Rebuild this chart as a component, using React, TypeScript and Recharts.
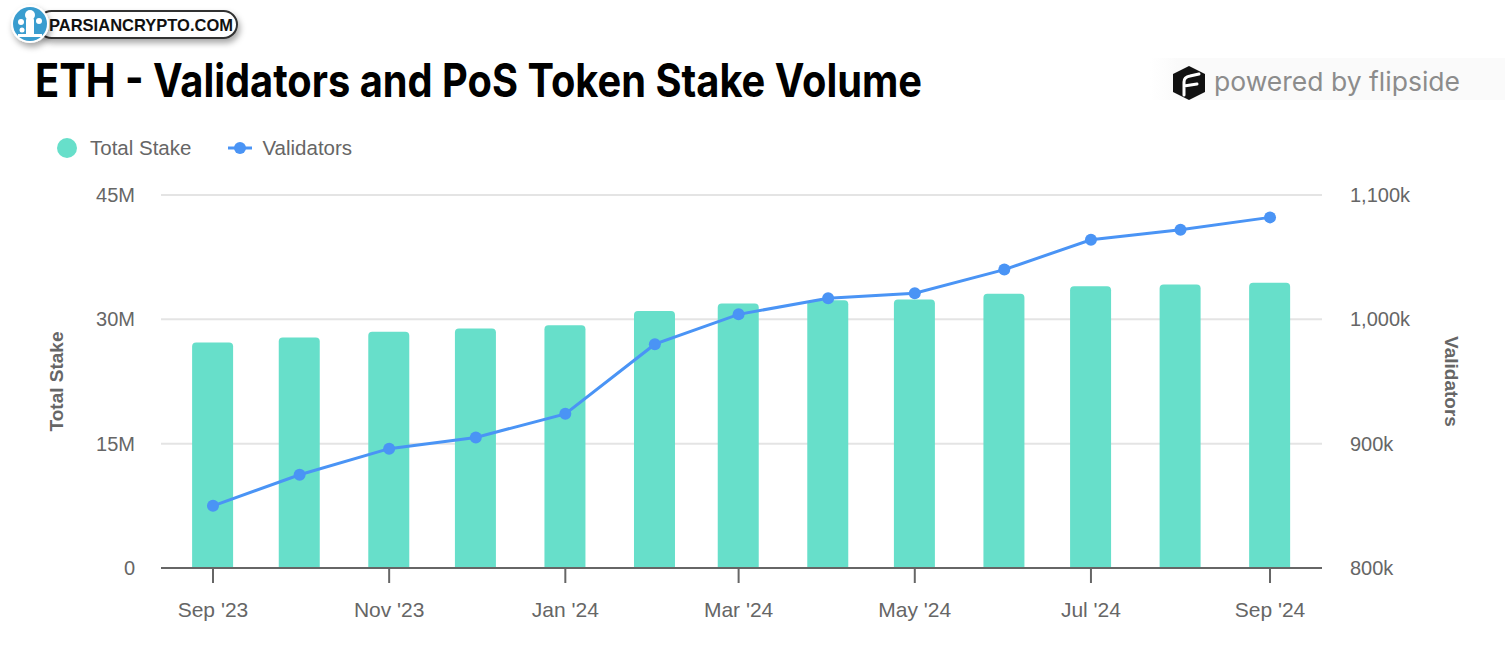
import {
  ComposedChart,
  Bar,
  Line,
  XAxis,
  YAxis,
  CartesianGrid,
} from "recharts";

const months = [
  "2023-09-01", "2023-10-01", "2023-11-01", "2023-12-01", "2024-01-01",
  "2024-02-01", "2024-03-01", "2024-04-01", "2024-05-01", "2024-06-01",
  "2024-07-01", "2024-08-01", "2024-09-01",
];
// millions of ETH
const totalStake = [27.2, 27.8, 28.5, 28.9, 29.3, 31.0, 31.9, 32.3, 32.4, 33.1, 34.0, 34.2, 34.4];
// thousands of validators
const validators = [850, 875, 896, 905, 924, 980, 1004, 1017, 1021, 1040, 1064, 1072, 1082];

const tickDates = ["2023-09-01", "2023-11-01", "2024-01-01", "2024-03-01", "2024-05-01", "2024-07-01", "2024-09-01"];
const tickLabels = ["Sep '23", "Nov '23", "Jan '24", "Mar '24", "May '24", "Jul '24", "Sep '24"];
const stakeTicks = [0, 15, 30, 45];
const validatorTicks = [800, 900, 1000, 1100];

const TEAL = "#67dfca";
const BLUE = "#4a94f5";
const GREY = "#666";
const FONT = "'Liberation Sans', Arial, sans-serif";

const ts = (d: string) => new Date(d + "T00:00:00Z").getTime();
const DAY = 86400000;

const data = months.map((m, i) => ({
  t: ts(m),
  stake: totalStake[i],
  validators: validators[i],
}));

const xTicks = tickDates.map(ts);
const xDomain = [ts(months[0]) - 18 * DAY, ts(months[months.length - 1]) + 18 * DAY];

function ChartLegend() {
  return (
    <div
      style={{
        position: "absolute",
        left: 55,
        top: 136,
        display: "flex",
        alignItems: "center",
        fontFamily: FONT,
        fontSize: 20.5,
        color: GREY,
      }}
    >
      <svg width={24} height={24} style={{ marginRight: 11 }}>
        <circle cx={12} cy={12} r={10} fill={TEAL} />
      </svg>
      <span style={{ marginRight: 36 }}>Total Stake</span>
      <svg width={26} height={16} style={{ marginRight: 9 }}>
        <line x1={1} y1={8} x2={25} y2={8} stroke={BLUE} strokeWidth={3} />
        <circle cx={13} cy={8} r={6} fill={BLUE} />
      </svg>
      <span>Validators</span>
    </div>
  );
}

function Header() {
  return (
    <svg width={1509} height={110} style={{ position: "absolute", left: 0, top: 0 }}>
      <defs>
        <filter id="sh" x="-20%" y="-40%" width="140%" height="200%">
          <feDropShadow dx={2} dy={4} stdDeviation={3} floodColor="#000" floodOpacity={0.35} />
        </filter>
        <linearGradient id="band" x1="0" x2="1" y1="0" y2="0">
          <stop offset="0" stopColor="#fafafa" stopOpacity={0} />
          <stop offset="0.08" stopColor="#fafafa" />
          <stop offset="1" stopColor="#fafafa" />
        </linearGradient>
      </defs>
      {/* site badge */}
      <rect x={38} y={11} width={199} height={27} rx={13.5} fill="#fff" stroke="#333" strokeWidth={2} filter="url(#sh)" />
      <circle cx={30} cy={24} r={19} fill="#fff" filter="url(#sh)" />
      <circle cx={30} cy={24} r={17} fill="#3a9dcf" />
      <g fill="#fff">
        <circle cx={30} cy={15} r={5} />
        <circle cx={21} cy={22} r={3} />
        <circle cx={39} cy={21} r={3} />
        <circle cx={22} cy={30} r={2.5} />
        <rect x={26} y={18} width={8} height={18} rx={2} />
        <rect x={18} y={34} width={24} height={3} />
      </g>
      <text x={49} y={31} fontFamily={FONT} fontWeight={700} fontSize={17} fill="#111" textLength={184} lengthAdjust="spacingAndGlyphs">
        PARSIANCRYPTO.COM
      </text>
      {/* title */}
      <text x={35} y={97} fontFamily="Inter, 'Liberation Sans', sans-serif" fontWeight={700} fontSize={46} fill="#000" textLength={887} lengthAdjust="spacingAndGlyphs">
        ETH - Validators and PoS Token Stake Volume
      </text>
      {/* powered by flipside */}
      <rect x={1150} y={58} width={355} height={42} fill="url(#band)" />
      <path d="M1189 66 L1205 74 L1205 92 L1189 100 L1173 92 L1173 74 Z" fill="#111" />
      <path d="M1184 95 L1184 82 Q1184 77 1190 76 L1199 74 M1184 86 L1197 84" stroke="#fff" strokeWidth={3} fill="none" strokeLinecap="round" />
      <text x={1214} y={91} fontFamily="Inter, 'Noto Sans', sans-serif" fontSize={26} fill="#8c8c8c" textLength={246} lengthAdjust="spacingAndGlyphs">
        powered by flipside
      </text>
    </svg>
  );
}

export default function App() {
  return (
    <div style={{ position: "absolute", left: 0, top: 0, width: 1509, height: 649, background: "#fff" }}>
      <Header />
      <ChartLegend />
      <div style={{ position: "absolute", left: 0, top: 0 }}>
        <ComposedChart
          width={1509}
          height={649}
          data={data}
          margin={{ top: 195, right: 37, bottom: 31, left: 41 }}
        >
          <CartesianGrid vertical={false} stroke="#e4e4e4" strokeWidth={2} yAxisId="left" />
          <XAxis
            dataKey="t"
            type="number"
            scale="time"
            domain={xDomain}
            ticks={xTicks}
            tickFormatter={(v: number) => tickLabels[xTicks.indexOf(v)] ?? ""}
            height={50}
            stroke={GREY}
            axisLine={{ stroke: GREY, strokeWidth: 2 }}
            tickLine={{ stroke: GREY, strokeWidth: 2 }}
            tickSize={15}
            tickMargin={19}
            tick={{ fill: GREY, fontSize: 21, fontFamily: FONT }}
            allowDataOverflow
          />
          <YAxis
            yAxisId="left"
            domain={[0, 45]}
            ticks={stakeTicks}
            tickFormatter={(v: number) => (v === 0 ? "0" : `${v}M`)}
            width={120}
            axisLine={false}
            tickLine={false}
            tickSize={0}
            tickMargin={26}
            tick={{ fill: GREY, fontSize: 20, fontFamily: FONT }}
            label={{
              value: "Total Stake",
              angle: -90,
              position: "insideLeft",
              offset: 15,
              style: { textAnchor: "middle", fill: GREY, fontSize: 19, fontWeight: 700, fontFamily: FONT },
            }}
          />
          <YAxis
            yAxisId="right"
            orientation="right"
            domain={[800, 1100]}
            ticks={validatorTicks}
            tickFormatter={(v: number) => `${v.toLocaleString("en-US")}k`}
            width={150}
            axisLine={false}
            tickLine={false}
            tickSize={0}
            tickMargin={28}
            tick={{ fill: GREY, fontSize: 20, fontFamily: FONT }}
            label={{
              value: "Validators",
              angle: 90,
              position: "insideRight",
              offset: 20,
              style: { textAnchor: "middle", fill: GREY, fontSize: 19, fontWeight: 700, fontFamily: FONT },
            }}
          />
          <Bar
            yAxisId="left"
            dataKey="stake"
            name="Total Stake"
            fill={TEAL}
            barSize={41}
            radius={[4, 4, 0, 0]}
            isAnimationActive={false}
          />
          <Line
            yAxisId="right"
            dataKey="validators"
            name="Validators"
            stroke={BLUE}
            strokeWidth={3}
            dot={{ r: 6, fill: BLUE, stroke: BLUE, strokeWidth: 0 }}
            activeDot={false}
            isAnimationActive={false}
          />
        </ComposedChart>
      </div>
    </div>
  );
}
